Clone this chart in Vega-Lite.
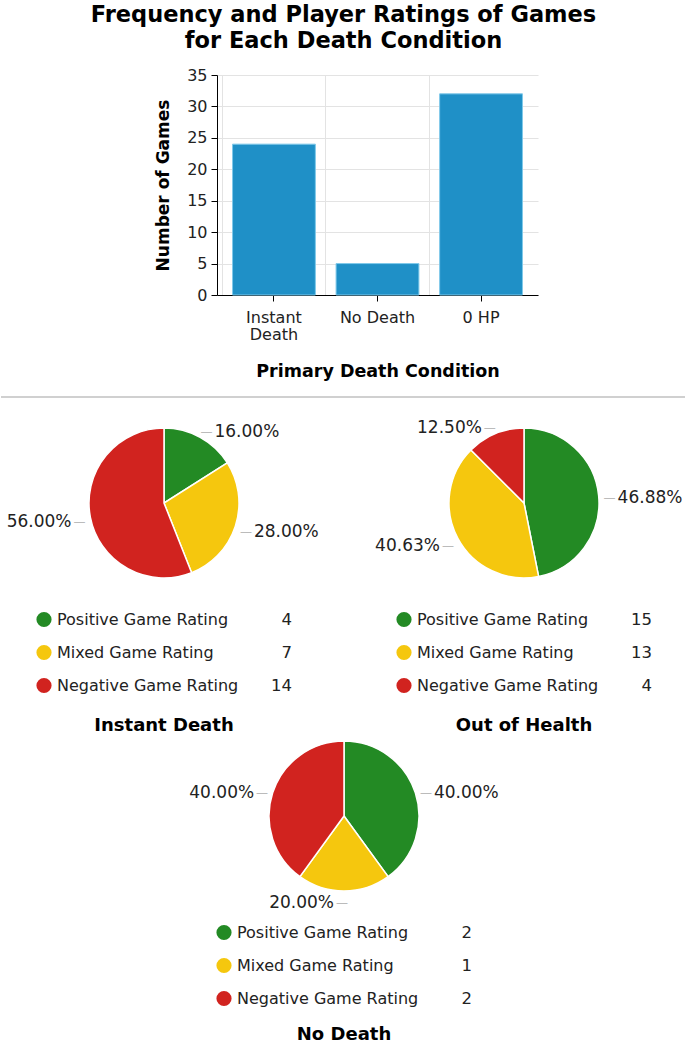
{
  "$schema": "https://vega.github.io/schema/vega-lite/v6.json",
  "padding": {"left": 0, "right": 0, "top": 3, "bottom": 0},
  "config": {
    "font": "DejaVu Sans",
    "view": {"stroke": null}
  },
  "title": {
    "text": ["Frequency and Player Ratings of Games", "for Each Death Condition"],
    "fontSize": 22.5,
    "fontWeight": "bold",
    "color": "#000",
    "anchor": "middle",
    "lineHeight": 26,
    "offset": 15
  },
  "datasets": {
    "bars": [
      {"condition": "Instant Death", "games": 24},
      {"condition": "No Death", "games": 5},
      {"condition": "0 HP", "games": 32}
    ],
    "ratings": [
      {"panel": "Instant Death", "rating": "Positive Game Rating", "rank": 1, "count": 4, "pct": 0.16},
      {"panel": "Instant Death", "rating": "Mixed Game Rating", "rank": 2, "count": 7, "pct": 0.28},
      {"panel": "Instant Death", "rating": "Negative Game Rating", "rank": 3, "count": 14, "pct": 0.56},
      {"panel": "Out of Health", "rating": "Positive Game Rating", "rank": 1, "count": 15, "pct": 0.4688},
      {"panel": "Out of Health", "rating": "Mixed Game Rating", "rank": 2, "count": 13, "pct": 0.4063},
      {"panel": "Out of Health", "rating": "Negative Game Rating", "rank": 3, "count": 4, "pct": 0.125},
      {"panel": "No Death", "rating": "Positive Game Rating", "rank": 1, "count": 2, "pct": 0.4},
      {"panel": "No Death", "rating": "Mixed Game Rating", "rank": 2, "count": 1, "pct": 0.2},
      {"panel": "No Death", "rating": "Negative Game Rating", "rank": 3, "count": 2, "pct": 0.4}
    ]
  },
  "center": true,
  "spacing": 21,
  "vconcat": [
    {
      "center": true,
      "spacing": 16,
      "vconcat": [
        {
          "spacing": 3,
          "hconcat": [
            {
              "data": {"values": [{}]},
              "width": 1,
              "height": 220,
              "mark": {"type": "rule", "opacity": 0},
              "encoding": {}
            },
            {
              "data": {"name": "bars"},
              "width": 321,
              "height": 220,
              "layer": [
                {
                  "mark": {"type": "bar", "color": "#1f90c7", "stroke": "#7fc9ea", "strokeWidth": 1},
                  "encoding": {
                    "x": {
                      "field": "condition",
                      "type": "nominal",
                      "sort": ["Instant Death", "No Death", "0 HP"],
                      "scale": {"paddingInner": 0.2, "paddingOuter": 0.15},
                      "axis": {
                        "title": "Primary Death Condition",
                        "titleFontSize": 17.5,
                        "titleFontWeight": "bold",
                        "titleColor": "#000",
                        "titlePadding": 20,
                        "labelAngle": 0,
                        "labelFontSize": 16,
                        "labelColor": "#222",
                        "labelPadding": 8,
                        "labelLineHeight": 17,
                        "labelExpr": "datum.label == 'Instant Death' ? ['Instant', 'Death'] : datum.label",
                        "domainColor": "#000",
                        "tickColor": "#000",
                        "tickSize": 6,
                        "grid": false
                      }
                    },
                    "y": {
                      "field": "games",
                      "type": "quantitative",
                      "scale": {"domain": [0, 35]},
                      "axis": {
                        "values": [0, 5, 10, 15, 20, 25, 30, 35],
                        "title": "Number of Games",
                        "titleFontSize": 17,
                        "titleFontWeight": "bold",
                        "titleColor": "#000",
                        "titlePadding": 14,
                        "labelFontSize": 16,
                        "labelColor": "#222",
                        "labelPadding": 4,
                        "domainColor": "#000",
                        "tickColor": "#000",
                        "tickSize": 6,
                        "gridColor": "#e3e3e3"
                      }
                    }
                  }
                },
                {
                  "mark": {"type": "bar", "opacity": 0},
                  "encoding": {
                    "x": {
                      "field": "condition",
                      "type": "nominal",
                      "sort": ["Instant Death", "No Death", "0 HP"],
                      "axis": {
                        "orient": "top",
                        "grid": true,
                        "bandPosition": -0.125,
                        "labels": false,
                        "ticks": false,
                        "domain": false,
                        "title": null,
                        "gridColor": "#e3e3e3"
                      }
                    }
                  }
                }
              ],
              "resolve": {"axis": {"x": "independent"}}
            }
          ]
        },
        {
          "data": {"values": [{}]},
          "width": 685,
          "height": 1,
          "mark": {"type": "rule", "color": "#d0d0d0", "strokeWidth": 2},
          "encoding": {
            "y": {"datum": 0, "type": "quantitative", "scale": {"domain": [0, 1]}, "axis": null}
          }
        }
      ]
    },
    {
      "center": true,
      "spacing": 3,
      "vconcat": [
        {
          "spacing": 40,
          "hconcat": [
            {
              "data": {"name": "ratings"},
              "transform": [{"filter": "datum.panel == 'Instant Death'"}],
              "spacing": 22,
              "title": {"text": "Instant Death", "orient": "bottom", "fontSize": 18, "fontWeight": "bold", "color": "#000", "anchor": "middle", "offset": 15},
              "vconcat": [
                {
                  "width": 320,
                  "height": 150,
                  "encoding": {
                    "theta": {"field": "count", "type": "quantitative", "stack": true},
                    "order": {"field": "rank", "type": "quantitative"},
                    "detail": {"field": "rating", "type": "nominal"}
                  },
                  "layer": [
                    {
                      "mark": {"type": "arc", "outerRadius": 75, "stroke": "#fff", "strokeWidth": 1.5},
                      "encoding": {
                        "color": {
                          "field": "rating",
                          "type": "nominal",
                          "scale": {"domain": ["Positive Game Rating", "Mixed Game Rating", "Negative Game Rating"], "range": ["#238a24", "#f5c70e", "#d1231f"]},
                          "legend": null
                        }
                      }
                    },
                    {
                      "mark": {"type": "text", "radius": 84, "align": "left", "dx": -4, "dy": 3, "fontSize": 12, "color": "#bbbbbb"},
                      "encoding": {
                        "text": {"condition": {"test": "datum.rating != 'Negative Game Rating'", "value": "—"}, "value": ""}
                      }
                    },
                    {
                      "mark": {"type": "text", "radius": 84, "align": "right", "dx": 4, "dy": 3, "fontSize": 12, "color": "#bbbbbb"},
                      "encoding": {
                        "text": {"condition": {"test": "datum.rating == 'Negative Game Rating'", "value": "—"}, "value": ""}
                      }
                    },
                    {
                      "mark": {"type": "text", "radius": 84, "align": "left", "dx": 10, "dy": 3, "fontSize": 17, "color": "#222"},
                      "encoding": {
                        "text": {"condition": {"test": "datum.rating != 'Negative Game Rating'", "field": "pct", "type": "quantitative", "format": ".2%"}, "value": ""}
                      }
                    },
                    {
                      "mark": {"type": "text", "radius": 84, "align": "right", "dx": -10, "dy": 3, "fontSize": 17, "color": "#222"},
                      "encoding": {
                        "text": {"condition": {"test": "datum.rating == 'Negative Game Rating'", "field": "pct", "type": "quantitative", "format": ".2%"}, "value": ""}
                      }
                    }
                  ]
                },
                {
                  "width": 320,
                  "height": 99,
                  "encoding": {
                    "y": {"field": "rating", "type": "nominal", "sort": ["Positive Game Rating", "Mixed Game Rating", "Negative Game Rating"], "axis": null}
                  },
                  "layer": [
                    {
                      "mark": {"type": "point", "shape": "circle", "filled": true, "size": 230, "opacity": 1},
                      "encoding": {
                        "x": {"datum": 40, "type": "quantitative", "scale": {"domain": [0, 320], "nice": false}, "axis": null},
                        "color": {
                          "field": "rating",
                          "type": "nominal",
                          "scale": {"domain": ["Positive Game Rating", "Mixed Game Rating", "Negative Game Rating"], "range": ["#238a24", "#f5c70e", "#d1231f"]},
                          "legend": null
                        }
                      }
                    },
                    {
                      "mark": {"type": "text", "align": "left", "fontSize": 16, "color": "#222"},
                      "encoding": {
                        "x": {"datum": 53, "type": "quantitative", "scale": {"domain": [0, 320], "nice": false}, "axis": null},
                        "text": {"field": "rating"}
                      }
                    },
                    {
                      "mark": {"type": "text", "align": "right", "fontSize": 16.5, "color": "#222"},
                      "encoding": {
                        "x": {"datum": 288, "type": "quantitative", "scale": {"domain": [0, 320], "nice": false}, "axis": null},
                        "text": {"field": "count"}
                      }
                    }
                  ]
                }
              ]
            },
            {
              "data": {"name": "ratings"},
              "transform": [{"filter": "datum.panel == 'Out of Health'"}],
              "spacing": 22,
              "title": {"text": "Out of Health", "orient": "bottom", "fontSize": 18, "fontWeight": "bold", "color": "#000", "anchor": "middle", "offset": 15},
              "vconcat": [
                {
                  "width": 320,
                  "height": 150,
                  "encoding": {
                    "theta": {"field": "count", "type": "quantitative", "stack": true},
                    "order": {"field": "rank", "type": "quantitative"},
                    "detail": {"field": "rating", "type": "nominal"}
                  },
                  "layer": [
                    {
                      "mark": {"type": "arc", "outerRadius": 75, "stroke": "#fff", "strokeWidth": 1.5},
                      "encoding": {
                        "color": {
                          "field": "rating",
                          "type": "nominal",
                          "scale": {"domain": ["Positive Game Rating", "Mixed Game Rating", "Negative Game Rating"], "range": ["#238a24", "#f5c70e", "#d1231f"]},
                          "legend": null
                        }
                      }
                    },
                    {
                      "mark": {"type": "text", "radius": 84, "align": "left", "dx": -4, "dy": 3, "fontSize": 12, "color": "#bbbbbb"},
                      "encoding": {
                        "text": {"condition": {"test": "datum.rating == 'Positive Game Rating'", "value": "—"}, "value": ""}
                      }
                    },
                    {
                      "mark": {"type": "text", "radius": 84, "align": "right", "dx": 4, "dy": 3, "fontSize": 12, "color": "#bbbbbb"},
                      "encoding": {
                        "text": {"condition": {"test": "datum.rating != 'Positive Game Rating'", "value": "—"}, "value": ""}
                      }
                    },
                    {
                      "mark": {"type": "text", "radius": 84, "align": "left", "dx": 10, "dy": 3, "fontSize": 17, "color": "#222"},
                      "encoding": {
                        "text": {"condition": {"test": "datum.rating == 'Positive Game Rating'", "field": "pct", "type": "quantitative", "format": ".2%"}, "value": ""}
                      }
                    },
                    {
                      "mark": {"type": "text", "radius": 84, "align": "right", "dx": -10, "dy": 3, "fontSize": 17, "color": "#222"},
                      "encoding": {
                        "text": {"condition": {"test": "datum.rating != 'Positive Game Rating'", "field": "pct", "type": "quantitative", "format": ".2%"}, "value": ""}
                      }
                    }
                  ]
                },
                {
                  "width": 320,
                  "height": 99,
                  "encoding": {
                    "y": {"field": "rating", "type": "nominal", "sort": ["Positive Game Rating", "Mixed Game Rating", "Negative Game Rating"], "axis": null}
                  },
                  "layer": [
                    {
                      "mark": {"type": "point", "shape": "circle", "filled": true, "size": 230, "opacity": 1},
                      "encoding": {
                        "x": {"datum": 40, "type": "quantitative", "scale": {"domain": [0, 320], "nice": false}, "axis": null},
                        "color": {
                          "field": "rating",
                          "type": "nominal",
                          "scale": {"domain": ["Positive Game Rating", "Mixed Game Rating", "Negative Game Rating"], "range": ["#238a24", "#f5c70e", "#d1231f"]},
                          "legend": null
                        }
                      }
                    },
                    {
                      "mark": {"type": "text", "align": "left", "fontSize": 16, "color": "#222"},
                      "encoding": {
                        "x": {"datum": 53, "type": "quantitative", "scale": {"domain": [0, 320], "nice": false}, "axis": null},
                        "text": {"field": "rating"}
                      }
                    },
                    {
                      "mark": {"type": "text", "align": "right", "fontSize": 16.5, "color": "#222"},
                      "encoding": {
                        "x": {"datum": 288, "type": "quantitative", "scale": {"domain": [0, 320], "nice": false}, "axis": null},
                        "text": {"field": "count"}
                      }
                    }
                  ]
                }
              ]
            }
          ]
        },
        {
          "data": {"name": "ratings"},
          "transform": [{"filter": "datum.panel == 'No Death'"}],
          "spacing": 5,
          "title": {"text": "No Death", "orient": "bottom", "fontSize": 18, "fontWeight": "bold", "color": "#000", "anchor": "middle", "offset": 11},
          "vconcat": [
            {
              "width": 320,
              "height": 150,
              "encoding": {
                "theta": {"field": "count", "type": "quantitative", "stack": true},
                "order": {"field": "rank", "type": "quantitative"},
                "detail": {"field": "rating", "type": "nominal"}
              },
              "layer": [
                {
                  "mark": {"type": "arc", "outerRadius": 75, "stroke": "#fff", "strokeWidth": 1.5},
                  "encoding": {
                    "color": {
                      "field": "rating",
                      "type": "nominal",
                      "scale": {"domain": ["Positive Game Rating", "Mixed Game Rating", "Negative Game Rating"], "range": ["#238a24", "#f5c70e", "#d1231f"]},
                      "legend": null
                    }
                  }
                },
                {
                  "mark": {"type": "text", "radius": 84, "align": "left", "dx": -4, "dy": 3, "fontSize": 12, "color": "#bbbbbb"},
                  "encoding": {
                    "text": {"condition": {"test": "datum.rating == 'Positive Game Rating'", "value": "—"}, "value": ""}
                  }
                },
                {
                  "mark": {"type": "text", "radius": 84, "align": "right", "dx": 4, "dy": 3, "fontSize": 12, "color": "#bbbbbb"},
                  "encoding": {
                    "text": {"condition": {"test": "datum.rating != 'Positive Game Rating'", "value": "—"}, "value": ""}
                  }
                },
                {
                  "mark": {"type": "text", "radius": 84, "align": "left", "dx": 10, "dy": 3, "fontSize": 17, "color": "#222"},
                  "encoding": {
                    "text": {"condition": {"test": "datum.rating == 'Positive Game Rating'", "field": "pct", "type": "quantitative", "format": ".2%"}, "value": ""}
                  }
                },
                {
                  "mark": {"type": "text", "radius": 84, "align": "right", "dx": -10, "dy": 3, "fontSize": 17, "color": "#222"},
                  "encoding": {
                    "text": {"condition": {"test": "datum.rating != 'Positive Game Rating'", "field": "pct", "type": "quantitative", "format": ".2%"}, "value": ""}
                  }
                }
              ]
            },
            {
              "width": 320,
              "height": 99,
              "encoding": {
                "y": {"field": "rating", "type": "nominal", "sort": ["Positive Game Rating", "Mixed Game Rating", "Negative Game Rating"], "axis": null}
              },
              "layer": [
                {
                  "mark": {"type": "point", "shape": "circle", "filled": true, "size": 230, "opacity": 1},
                  "encoding": {
                    "x": {"datum": 40, "type": "quantitative", "scale": {"domain": [0, 320], "nice": false}, "axis": null},
                    "color": {
                      "field": "rating",
                      "type": "nominal",
                      "scale": {"domain": ["Positive Game Rating", "Mixed Game Rating", "Negative Game Rating"], "range": ["#238a24", "#f5c70e", "#d1231f"]},
                      "legend": null
                    }
                  }
                },
                {
                  "mark": {"type": "text", "align": "left", "fontSize": 16, "color": "#222"},
                  "encoding": {
                    "x": {"datum": 53, "type": "quantitative", "scale": {"domain": [0, 320], "nice": false}, "axis": null},
                    "text": {"field": "rating"}
                  }
                },
                {
                  "mark": {"type": "text", "align": "right", "fontSize": 16.5, "color": "#222"},
                  "encoding": {
                    "x": {"datum": 288, "type": "quantitative", "scale": {"domain": [0, 320], "nice": false}, "axis": null},
                    "text": {"field": "count"}
                  }
                }
              ]
            }
          ]
        }
      ]
    }
  ]
}
